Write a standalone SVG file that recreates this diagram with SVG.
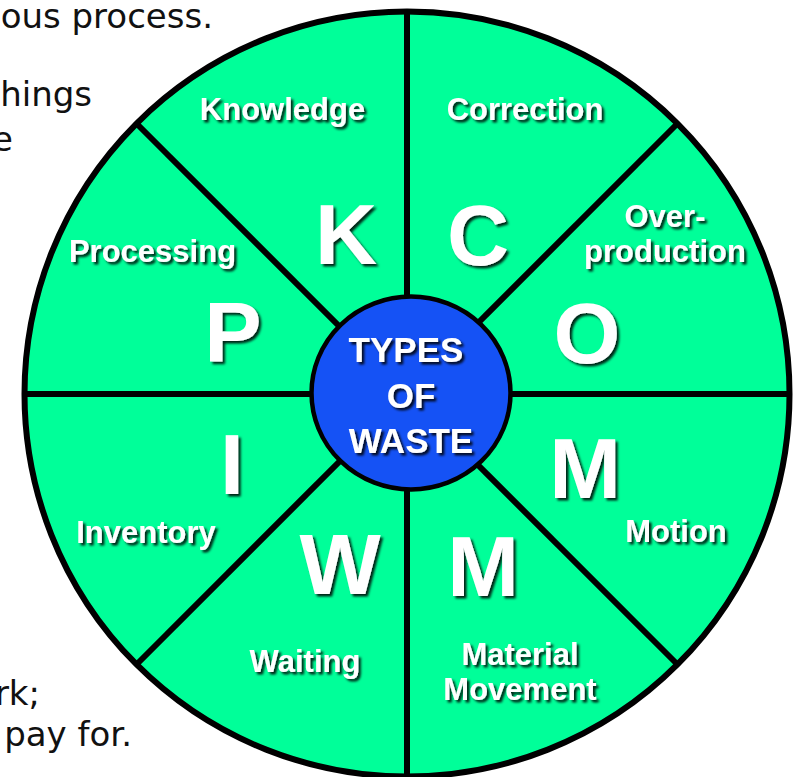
<svg xmlns="http://www.w3.org/2000/svg" width="797" height="777" viewBox="0 0 797 777">
<defs>
<filter id="sh" x="-20%" y="-20%" width="140%" height="140%">
<feDropShadow dx="2.5" dy="2.5" stdDeviation="0.8" flood-color="#000" flood-opacity="0.85"/>
</filter>
<style>
.bg{font-family:"DejaVu Sans","Liberation Sans",sans-serif;font-size:34px;fill:#111;text-anchor:end}
.lbl{font-family:"Liberation Sans",Arial,sans-serif;font-weight:bold;font-size:31px;fill:#fff;text-anchor:middle;filter:url(#sh)}
.big{font-family:"Liberation Sans",Arial,sans-serif;font-weight:bold;font-size:86px;fill:#fff;text-anchor:middle;filter:url(#sh)}
.ctr{font-family:"Liberation Sans",Arial,sans-serif;font-weight:bold;font-size:35px;fill:#fff;text-anchor:middle;filter:url(#sh)}
.div{stroke:#000;stroke-width:6;fill:none}
</style>
</defs>
<rect width="797" height="777" fill="#fff"/>
<g id="background-text">
<text class="bg" x="213" y="28">ous process.</text>
<text class="bg" x="92" y="106">hings</text>
<text class="bg" x="13" y="151">e</text>
<text class="bg" x="40" y="705">rk;</text>
<text class="bg" x="132" y="746">pay for.</text>
</g>
<g id="wheel">
<circle cx="407" cy="394" r="382.5" fill="#00FF99" stroke="#000" stroke-width="6"/>
</g>
<g id="connectors">
<line class="div" x1="407" y1="394" x2="407" y2="12"/>
<line class="div" x1="407" y1="394" x2="407" y2="776"/>
<line class="div" x1="407" y1="394" x2="25" y2="394"/>
<line class="div" x1="407" y1="394" x2="789" y2="394"/>
<line class="div" x1="407" y1="394" x2="137" y2="124"/>
<line class="div" x1="407" y1="394" x2="677" y2="124"/>
<line class="div" x1="407" y1="394" x2="137" y2="664"/>
<line class="div" x1="407" y1="394" x2="677" y2="664"/>
</g>
<g id="knowledge">
<text class="lbl" x="282.5" y="120">Knowledge</text>
<text class="big" x="346" y="264">K</text>
</g>
<g id="correction">
<text class="lbl" x="525" y="120">Correction</text>
<text class="big" x="478" y="265">C</text>
</g>
<g id="overproduction">
<text class="lbl" x="665" y="227">Over-</text>
<text class="lbl" x="665" y="262">production</text>
<text class="big" x="587" y="363">O</text>
</g>
<g id="processing">
<text class="lbl" x="152.5" y="262">Processing</text>
<text class="big" x="233" y="362">P</text>
</g>
<g id="inventory">
<text class="lbl" x="146" y="543">Inventory</text>
<text class="big" x="232" y="494">I</text>
</g>
<g id="motion">
<text class="lbl" x="676" y="542">Motion</text>
<text class="big" x="585" y="498">M</text>
</g>
<g id="waiting">
<text class="lbl" x="305" y="672">Waiting</text>
<text class="big" x="340" y="594">W</text>
</g>
<g id="material-movement">
<text class="lbl" x="520" y="665">Material</text>
<text class="lbl" x="520" y="700">Movement</text>
<text class="big" x="483" y="596">M</text>
</g>
<g id="types-of-waste">
<ellipse cx="411" cy="393" rx="99.5" ry="96.5" fill="#1552F5" stroke="#000" stroke-width="4.5"/>
<text class="ctr" x="406" y="362">TYPES</text>
<text class="ctr" x="411" y="408">OF</text>
<text class="ctr" x="411" y="453">WASTE</text>
</g>
</svg>
